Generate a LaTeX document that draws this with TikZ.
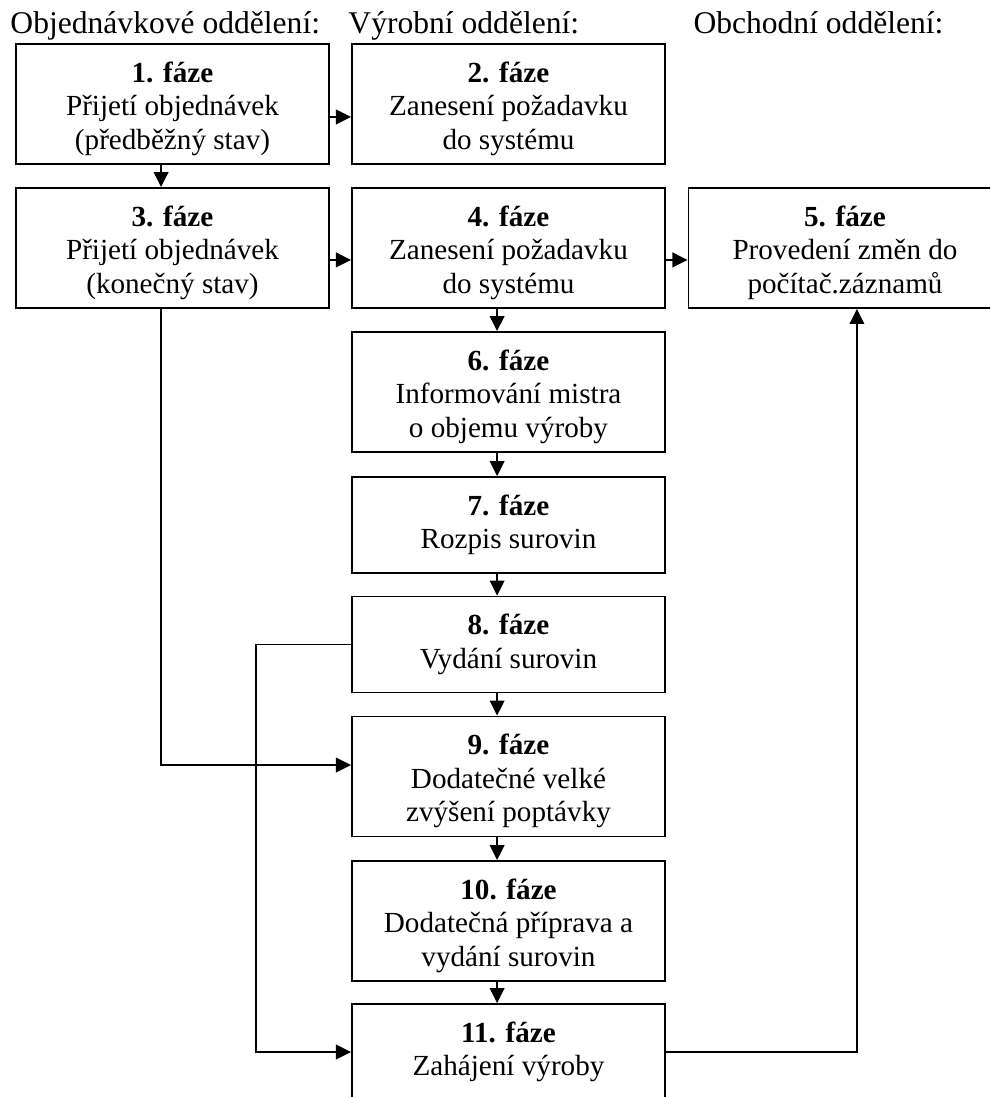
\documentclass[tikz,border=0pt]{standalone}
\usepackage{fontspec}
\setmainfont{Liberation Serif}
\usetikzlibrary{arrows.meta}

\begin{document}
\begin{tikzpicture}[x=0.4117pt,y=-0.4117pt,>={Triangle[length=6.2pt,width=6pt]},
  stagebox/.style={draw,line width=0.75pt,minimum width=128.9pt,inner sep=0pt,align=center,font=\fontsize{12}{13.8}\selectfont},
  stagetall/.style={stagebox,minimum height=49.4pt,text height=40pt},
  stagelow/.style={stagebox,minimum height=39.5pt},
  dept/.style={anchor=base west,inner sep=0pt,font=\fontsize{13}{15}\selectfont},
  conn/.style={->,line width=0.75pt}]
\useasboundingbox (0,0) rectangle (990,1097);
\clip (0,0) rectangle (990,1097);
% departments
\node[dept] (dobj) at (10,34) {Objednávkové oddělení:};
\node[dept] (dvyr) at (348,34) {Výrobní oddělení:};
\node[dept] (dobch) at (693,34) {Obchodní oddělení:};
% phases
\node[stagetall] (f1) at (172.5,104) {\textbf{1. fáze}\\Přijetí objednávek\\(předběžný stav)};
\node[stagetall] (f2) at (508.5,104) {\textbf{2. fáze}\\Zanesení požadavku\\do systému};
\node[stagetall] (f3) at (172.5,248) {\textbf{3. fáze}\\Přijetí objednávek\\(konečný stav)};
\node[stagetall] (f4) at (508.5,248) {\textbf{4. fáze}\\Zanesení požadavku\\do systému};
\node[stagetall] (f5) at (845,248) {\textbf{5. fáze}\\Provedení změn do\\počítač.záznamů};
\node[stagetall] (f6) at (508.5,392) {\textbf{6. fáze}\\Informování mistra\\o objemu výroby};
\node[stagelow] (f7) at (508.5,525) {\textbf{7. fáze}\\Rozpis surovin};
\node[stagelow] (f8) at (508.5,644.5) {\textbf{8. fáze}\\Vydání surovin};
\node[stagetall] (f9) at (508.5,776.5) {\textbf{9. fáze}\\Dodatečné velké\\zvýšení poptávky};
\node[stagetall] (f10) at (508.5,921) {\textbf{10. fáze}\\Dodatečná příprava a\\vydání surovin};
\node[stagelow] (f11) at (508.5,1052) {\textbf{11. fáze}\\Zahájení výroby};
% arrows
\draw[conn] ([yshift=-5.35pt]f1.east) -- ([yshift=-5.35pt]f2.west);
\draw[conn] ([xshift=-4.7pt]f1.south) -- ([xshift=-4.7pt]f3.north);
\draw[conn] ([yshift=-4.9pt]f3.east) -- ([yshift=-4.9pt]f4.west);
\draw[conn] ([yshift=-4.9pt]f4.east) -- ([yshift=-4.9pt]f5.west);
\draw[conn] ([xshift=-4.7pt]f4.south) -- ([xshift=-4.7pt]f6.north);
\draw[conn] ([xshift=-4.7pt]f6.south) -- ([xshift=-4.7pt]f7.north);
\draw[conn] ([xshift=-4.7pt]f7.south) -- ([xshift=-4.7pt]f8.north);
\draw[conn] ([xshift=-4.7pt]f8.south) -- ([xshift=-4.7pt]f9.north);
\draw[conn] ([xshift=-4.7pt]f9.south) -- ([xshift=-4.7pt]f10.north);
\draw[conn] ([xshift=-4.7pt]f10.south) -- ([xshift=-4.7pt]f11.north);
\draw[conn] ([xshift=-4.7pt]f3.south) |- ([yshift=4.7pt]f9.west);
\draw[conn] (f8.west) -- ++(-95,0) |- (f11.west);
\draw[conn] (f11.east) -| ([xshift=4.9pt]f5.south);
\end{tikzpicture}
\end{document}
